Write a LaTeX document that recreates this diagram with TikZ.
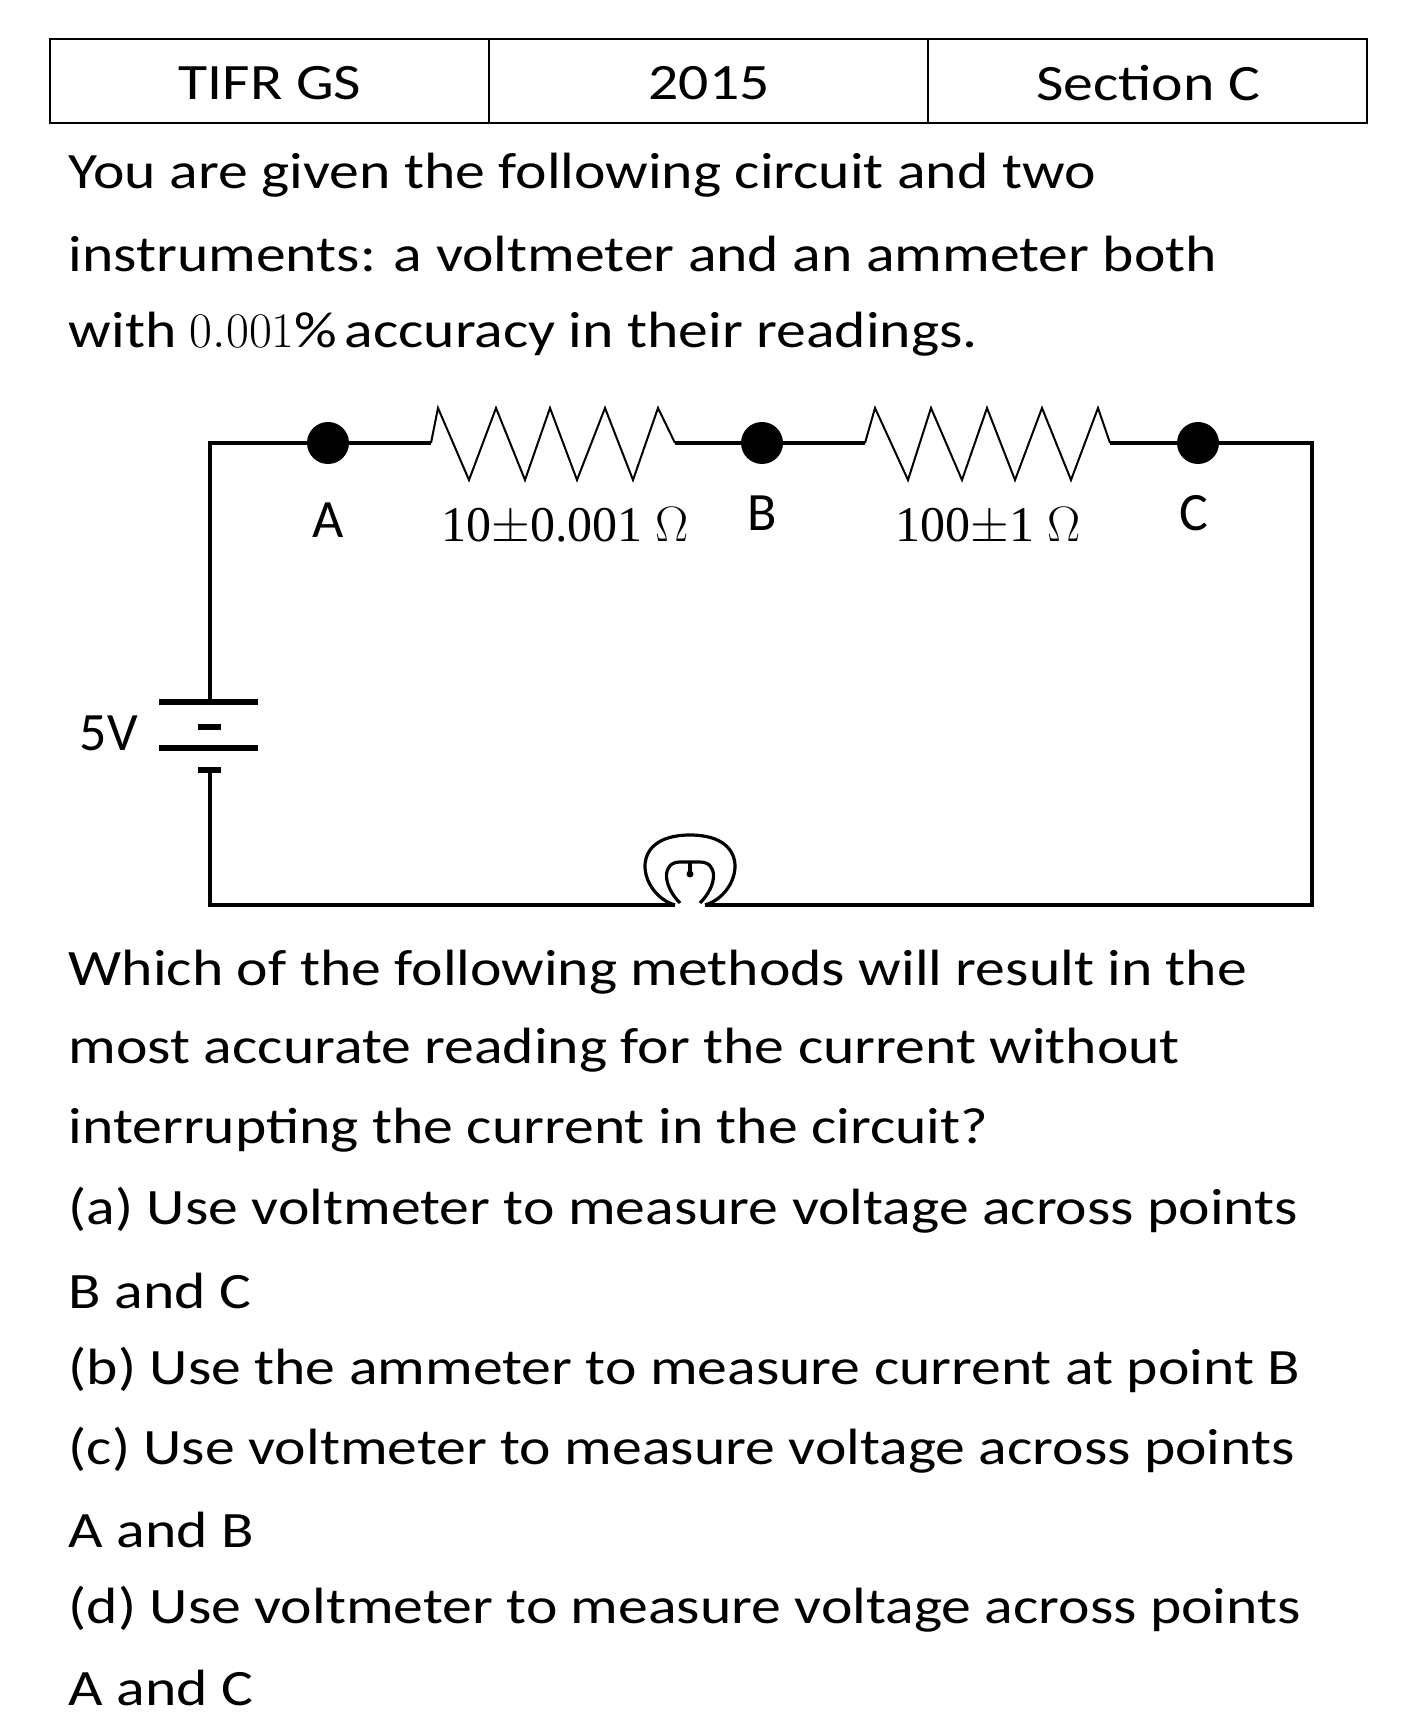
\documentclass[tikz,border=0pt]{standalone}
\usepackage{fontspec}
\setmainfont{Carlito}[FakeStretch=1.17]
\newfontfamily\labelsf{Carlito}
\newfontfamily\serifrm{Liberation Serif}
\tikzset{every picture/.style={line width=0.75pt}}
\tikzset{
	body text/.style={anchor=west,inner sep=0pt,font=\fontsize{25.5}{30}\selectfont},
	wire/.style={line width=2.2pt},
	zigzag/.style={line width=1pt,line join=miter},
	pt label/.style={inner sep=0pt,font=\labelsf\fontsize{27}{30}\selectfont}}

\begin{document}
\begin{tikzpicture}[x=0.5pt,y=0.5pt,yscale=-1,xscale=1]
	\path[use as bounding box] (0,0) rectangle (1418,1716);
	
	%Shape: Table header
	\draw [line width=1pt] (50,39) rectangle (1367,123) ;
	\draw [line width=1pt] (489,39) -- (489,123) ;
	\draw [line width=1pt] (928,39) -- (928,123) ;
	% Text Node
	\node (exam) [inner sep=0pt,font=\fontsize{25.5}{30}\selectfont] at (270,83) {TIFR GS};
	\node (year) [inner sep=0pt,font=\fontsize{25.5}{30}\selectfont] at (709,83) {2015};
	\node (sect) [inner sep=0pt,font=\fontsize{25.5}{30}\selectfont] at (1148,83) {Section C};
	
	% Text Node
	\node (q1) [body text] at (68,175) {You are given the following circuit and two};
	\node (q2) [body text] at (68,254) {instruments: a voltmeter and an ammeter both};
	\node (q3) [body text] at (68,334) {with $0.001\%$ accuracy in their readings.};
	
	%Coordinates of the circuit
	\coordinate (tl) at (210,443);
	\coordinate (tr) at (1312,443);
	\coordinate (bl) at (210,905);
	\coordinate (br) at (1312,905);
	\coordinate (batt top) at (210,702);
	\coordinate (batt bot) at (210,770);
	\coordinate (bulb l) at (675,905);
	\coordinate (bulb r) at (705,905);
	
	%Straight Lines: wires
	\draw [wire] (batt top) -- (tl) -- (328,443) ;
	\draw [wire] (1198,443) -- (tr) -- (br) -- (bulb r) ;
	\draw [wire] (bulb l) -- (bl) -- (batt bot) ;
	\draw [wire] (328,443) -- (431,443) ;
	\draw [wire] (675,443) -- (865,443) ;
	\draw [wire] (1110,443) -- (1198,443) ;
	
	%Zigzag resistors
	\draw [zigzag] (431,443) -- (438,408) -- (469,480) -- (496,408) -- (525,480) -- (550,408) -- (577,480) -- (605,408) -- (633,480) -- (658,408) -- (675,443) ;
	\draw [zigzag] (865,443) -- (875,408) -- (908,480) -- (931,408) -- (962,480) -- (987,408) -- (1015,480) -- (1042,408) -- (1071,480) -- (1098,408) -- (1110,443) ;
	
	%Shape: Circle
	\fill (328,443) circle (21) node (A) {} ;
	\fill (762,443) circle (21) node (B) {} ;
	\fill (1198,443) circle (21) node (C) {} ;
	
	%Battery plates
	\draw [line width=3pt] (159,702) -- (258,702) ;
	\draw [line width=3pt] (198,727) -- (221,727) ;
	\draw [line width=3pt] (159,748) -- (258,748) ;
	\draw [line width=3pt] (198,770) -- (221,770) ;
	
	%Shape: Bulb
	\draw [line width=1.6pt] (bulb l) .. controls (640,895) and (625,835) .. (690,835) .. controls (755,835) and (740,895) .. (bulb r) ;
	\draw [line width=1.6pt] (680,903) .. controls (662,885) and (662,862) .. (680,862) -- (700,862) .. controls (718,862) and (718,885) .. (700,903) ;
	\draw [line width=1.6pt] (690,862) -- (690,872) ;
	\fill (690,874) circle (3.5) ;
	
	% Text Node
	\node (lA) [pt label] at (328,520) {A};
	\node (lB) [pt label] at (762,513) {B};
	\node (lC) [pt label] at (1194,513) {C};
	\node (r1) [inner sep=0pt,font=\serifrm\fontsize{25}{30}\selectfont] at (565,527) {10$\pm$0.001 $\Omega$};
	\node (r2) [inner sep=0pt,font=\serifrm\fontsize{25}{30}\selectfont] at (988,527) {100$\pm$1 $\Omega$};
	\node (emf) [pt label] at (109,733) {5V};
	
	% Text Node
	\node (p1) [body text] at (68,972) {Which of the following methods will result in the};
	\node (p2) [body text] at (68,1050) {most accurate reading for the current without};
	\node (p3) [body text] at (68,1130) {interrupting the current in the circuit?};
	\node (oa1) [body text] at (68,1210) {(a) Use voltmeter to measure voltage across points};
	\node (oa2) [body text] at (68,1291) {B and C};
	\node (ob) [body text] at (68,1370) {(b) Use the ammeter to measure current at point B};
	\node (oc1) [body text] at (68,1450) {(c) Use voltmeter to measure voltage across points};
	\node (oc2) [body text] at (68,1530) {A and B};
	\node (od1) [body text] at (68,1609) {(d) Use voltmeter to measure voltage across points};
	\node (od2) [body text] at (68,1688) {A and C};
	
\end{tikzpicture}
\end{document}
